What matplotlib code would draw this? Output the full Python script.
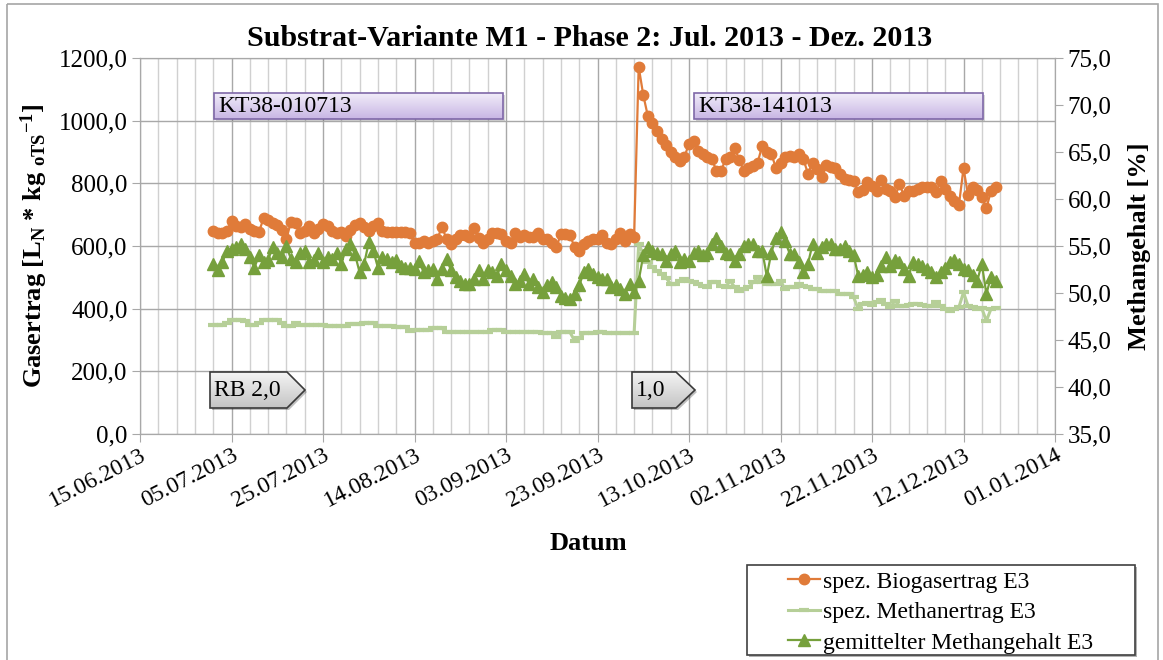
import numpy as np
import pandas as pd
import matplotlib
matplotlib.use("Agg")
import matplotlib.pyplot as plt
import matplotlib.dates as mdates
from matplotlib.ticker import FuncFormatter, FixedLocator
from matplotlib.patches import Rectangle, Polygon
from matplotlib.colors import LinearSegmentedColormap

# ---- data (one value per day from 01.07.2013) ----
start_date = "2013-07-01"

biogas_yield = [  # spez. Biogasertrag E3 [L_N / kg oTS]
    648, 643, 643, 648, 680, 664, 660, 670, 655, 648,
    645, 688, 682, 675, 668, 652, 622, 678, 675, 643,
    648, 664, 643, 655, 670, 665, 648, 643, 645, 633,
    650, 668, 675, 660, 648, 664, 675, 648, 645, 645,
    645, 645, 645,
    643, 611, 611, 617, 611, 617, 622, 662, 622, 606,
    622, 636, 636, 628, 656, 624, 611, 622, 643, 643,
    638, 617, 611, 643, 628, 636, 628, 628, 643, 622,
    622, 611, 596, 638, 638, 634, 596, 585, 606, 617,
    622, 622, 636, 611, 606, 622, 643, 617, 638, 628,
    1172, 1082, 1015, 994, 966, 941, 923, 899, 885, 872,
    884, 927, 934, 904, 893, 883, 877, 840, 840, 877,
    883, 912, 874, 840, 850, 855, 866, 920, 899, 893,
    850, 866, 883, 888, 883, 895, 877, 831, 866, 845,
    819, 858, 852, 848, 829, 813, 810, 808, 771, 780,
    803, 792, 776, 811, 782, 776, 755, 798, 760, 776,
    776, 782, 787, 787, 787, 771, 808, 782, 760, 745,
    731, 848, 762, 787, 780, 755, 720, 776, 787,
]

methane_yield = [  # spez. Methanertrag E3 [L_N / kg oTS]
    348, 348, 348, 354, 365, 365, 365, 362, 348, 348,
    354, 365, 365, 365, 365, 354, 346, 344, 354, 348,
    348, 348, 348, 348, 348, 344, 344, 344, 344, 344,
    351, 351, 351, 354, 354, 354, 346, 346, 346, 346,
    343, 343, 343,
    330, 333, 333, 333, 333, 337, 337, 337, 326, 326,
    326, 326, 326, 326, 326, 326, 326, 326, 333, 333,
    333, 326, 326, 326, 324, 324, 324, 324, 324, 321,
    321, 321, 308, 324, 324, 324, 298, 305, 321, 321,
    321, 324, 324, 321, 321, 321, 321, 321, 321, 321,
    606, 574, 548, 532, 521, 510, 498, 479, 479, 489,
    494, 489, 484, 479, 473, 468, 484, 484, 473, 468,
    489, 468, 457, 463, 468, 484, 500, 484, 479, 479,
    479, 489, 463, 468, 468, 479, 473, 468, 463, 463,
    457, 457, 457, 457, 447, 447, 447, 436, 399, 415,
    418, 412, 420, 428, 415, 404, 425, 409, 409, 412,
    415, 415, 412, 407, 409, 420, 409, 399, 393, 399,
    405, 452, 409, 404, 399, 401, 361, 399, 401,
]

methane_content = [  # gemittelter Methangehalt E3 [%]
    53.1, 52.4, 53.3, 54.5, 54.7, 54.9, 55.2, 54.7, 53.8, 52.7,
    54.0, 53.3, 53.5, 54.9, 54.3, 53.8, 55.0, 53.6, 53.3, 54.3,
    54.5, 53.3, 53.5, 54.3, 53.3, 53.8, 53.6, 54.3, 53.1, 54.7,
    55.2, 54.1, 52.2, 53.1, 55.4, 54.5, 52.7, 53.8, 53.6, 53.3,
    53.5, 52.9, 52.7,
    52.7, 52.6, 53.4, 52.2, 52.4, 52.6, 51.5, 52.6, 53.6, 52.4,
    51.7, 51.3, 51.0, 51.0, 51.5, 52.4, 51.5, 52.4, 52.2, 51.8,
    53.1, 52.4, 51.8, 51.0, 51.3, 52.0, 51.0, 51.5, 50.6, 50.1,
    50.8, 51.2, 50.6, 49.7, 49.5, 49.4, 49.9, 50.8, 52.2, 52.6,
    52.0, 51.7, 51.5, 51.5, 50.6, 50.8, 50.4, 49.9, 51.0, 50.1,
    51.3, 54.0, 54.9, 54.5, 54.3, 54.2, 53.4, 54.2, 54.5, 53.3,
    53.6, 53.4, 54.3, 54.5, 54.0, 54.3, 55.2, 55.9, 55.0, 54.3,
    54.2, 53.4, 54.2, 55.0, 55.2, 55.2, 54.5, 54.5, 51.8, 54.3,
    55.9, 56.5, 55.5, 54.2, 54.2, 53.3, 52.2, 53.1, 55.2, 54.3,
    54.9, 55.2, 55.2, 54.7, 54.7, 55.0, 54.5, 54.0, 51.8, 51.9,
    52.2, 51.7, 51.9, 52.9, 53.8, 52.9, 53.5, 53.3, 52.6, 51.8,
    53.3, 53.1, 52.9, 52.6, 52.2, 51.7, 52.2, 52.7, 53.3, 53.5,
    53.1, 52.6, 52.4, 51.9, 51.3, 53.1, 49.9, 51.7, 51.3,
]

series_labels = ["spez. Biogasertrag E3", "spez. Methanertrag E3",
                 "gemittelter Methangehalt E3"]
left_ticks = [0, 200, 400, 600, 800, 1000, 1200]
right_ticks = [35, 40, 45, 50, 55, 60, 65, 70, 75]
x_start, x_end = "2013-06-15", "2014-01-01"

dates = pd.date_range(start_date, periods=len(biogas_yield), freq="D")
assert len(methane_yield) == len(dates) and len(methane_content) == len(dates)

# ---- figure ----
W, H = 1163, 660
plt.rcParams["font.family"] = ["Liberation Serif", "DejaVu Serif"]
plt.rcParams["mathtext.fontset"] = "custom"
plt.rcParams["mathtext.rm"] = "Liberation Serif:bold"
plt.rcParams["mathtext.bf"] = "Liberation Serif:bold"
plt.rcParams["mathtext.it"] = "Liberation Serif:bold:italic"

fig = plt.figure(figsize=(W / 100, H / 100), dpi=100)
ax = fig.add_axes([140 / W, 1 - 434 / H, (1055 - 140) / W, (434 - 58) / H])
ax2 = ax.twinx()

c_bio = "#e07b39"
c_ch4y = "#b6cf98"
c_ch4 = "#76a03c"
grid_c = "#a8a8a8"

l1, = ax.plot(dates, biogas_yield, color=c_bio, lw=1.6, marker="o", ms=7.5,
              zorder=4)
l2, = ax.plot(dates, methane_yield, color=c_ch4y, lw=2.2, marker="_", ms=7,
              mew=3, zorder=3)
l3, = ax2.plot(dates, methane_content, color=c_ch4, lw=1.6, marker="^", ms=8,
               zorder=4)

ax.set_xlim(pd.Timestamp(x_start), pd.Timestamp(x_end))
ax.set_ylim(left_ticks[0], left_ticks[-1])
ax2.set_ylim(right_ticks[0], right_ticks[-1])
ax.set_yticks(left_ticks)
ax2.set_yticks(right_ticks)
ax.xaxis.set_major_locator(FixedLocator(
    mdates.date2num(pd.date_range(x_start, x_end, freq="20D"))))
ax.xaxis.set_minor_locator(FixedLocator(
    mdates.date2num(pd.date_range(x_start, x_end, freq="4D"))))
ax.xaxis.set_major_formatter(mdates.DateFormatter("%d.%m.%Y"))

comma = FuncFormatter(lambda v, p: f"{v:.1f}".replace(".", ","))
ax.yaxis.set_major_formatter(comma)
ax2.yaxis.set_major_formatter(comma)

ax.grid(True, which="major", axis="both", color=grid_c, lw=1.0, zorder=0)
ax.grid(True, which="minor", axis="x", color="#d0d0d0", lw=1.0, zorder=0)
ax.set_axisbelow(True)

for a in (ax, ax2):
    for s in a.spines.values():
        s.set_color(grid_c)
ax.tick_params(axis="y", which="major", length=6, color=grid_c, labelsize=18,
               pad=3)
ax2.tick_params(axis="y", which="major", length=6, color=grid_c, labelsize=18,
                pad=3)
ax.tick_params(axis="x", which="major", length=6, color=grid_c, labelsize=17,
               pad=2)
ax.tick_params(axis="x", which="minor", length=0)
for lab in ax.get_xticklabels():
    lab.set_rotation(27)
    lab.set_ha("right")
    lab.set_rotation_mode("anchor")

ax.set_ylabel(r"Gasertrag [L$_\mathregular{N}$ * kg $_\mathregular{oTS}$$^\mathregular{-1}$]",
              fontsize=19, fontweight="bold")
ax.yaxis.set_label_coords((50 - 140) / (1055 - 140), 0.5)
ax2.set_ylabel("Methangehalt [%]", fontsize=19, fontweight="bold")
ax2.yaxis.set_label_coords((1128 - 140) / (1055 - 140), 0.5)

fig.text(590 / W, 1 - 38 / H, "Substrat-Variante M1 - Phase 2: Jul. 2013 - Dez. 2013",
         ha="center", va="center", fontsize=21.6, fontweight="bold")
fig.text(588 / W, 1 - 543 / H, "Datum", ha="center", va="center",
         fontsize=19, fontweight="bold")

# ---- overlay in pixel coordinates (frame, labels, legend box) ----
ov = fig.add_axes([0, 0, 1, 1], zorder=10)
ov.axis("off")
ov.patch.set_alpha(0)

ov.add_patch(Rectangle((7, 4), 1151, 680, fill=False, ec="#a6a6a6", lw=1.2))


def grad_box(x0, y0, x1, y1, c_top, c_bot, edge, text):
    cmap = LinearSegmentedColormap.from_list("g", [c_top, c_bot])
    ov.add_patch(Rectangle((x0 + 2, y0 + 2), x1 - x0, y1 - y0, fc="#000000",
                           alpha=0.15, lw=0))
    ov.imshow(np.linspace(0, 1, 64).reshape(-1, 1), extent=(x0, x1, y1, y0),
              cmap=cmap, aspect="auto", zorder=2)
    ov.add_patch(Rectangle((x0, y0), x1 - x0, y1 - y0, fill=False, ec=edge,
                           lw=1.2, zorder=3))
    ov.text(x0 + 4, (y0 + y1) / 2 + 1, text, ha="left", va="center",
            fontsize=17, zorder=4)


def arrow_box(x0, y0, x1, xt, y1, text):
    ym = (y0 + y1) / 2
    pts = [(x0, y0), (xt, y0), (x1, ym), (xt, y1), (x0, y1)]
    shadow = Polygon([(px + 2, py + 2) for px, py in pts], fc="#000000",
                     alpha=0.25, lw=0)
    ov.add_patch(shadow)
    poly = Polygon(pts, fc="none", ec="#3a3a3a", lw=1.2, zorder=3)
    ov.add_patch(poly)
    cmap = LinearSegmentedColormap.from_list("g", ["#f4f4f4", "#c4c4c4"])
    im = ov.imshow(np.linspace(0, 1, 64).reshape(-1, 1), extent=(x0, x1, y1, y0),
                   cmap=cmap, aspect="auto", zorder=2)
    im.set_clip_path(poly)
    ov.text(x0 + 4, ym + 1, text, ha="left", va="center", fontsize=17, zorder=4)


grad_box(214, 93, 503, 119, "#f1ecf9", "#c8b6e4", "#7f68a8", "KT38-010713")
grad_box(694, 93, 983, 119, "#f1ecf9", "#c8b6e4", "#7f68a8", "KT38-141013")
arrow_box(210, 372, 305, 287, 408, "RB 2,0")
arrow_box(632, 372, 695, 676, 408, "1,0")

ov.add_patch(Rectangle((749, 567), 388, 90, fc="#000000", alpha=0.3, lw=0))
ov.add_patch(Rectangle((747, 565), 388, 90, fc="white", ec="#404040", lw=1.2))

ov.set_xlim(0, W)
ov.set_ylim(H, 0)

leg = fig.legend([l1, l2, l3], series_labels, loc="upper left",
                 bbox_to_anchor=(788 / W, 1 - 571 / H), frameon=False,
                 fontsize=17, handlelength=1.35, handletextpad=0.15,
                 labelspacing=0.38, borderpad=0, borderaxespad=0)
leg.set_zorder(20)

fig.savefig("out.png", dpi=100)
